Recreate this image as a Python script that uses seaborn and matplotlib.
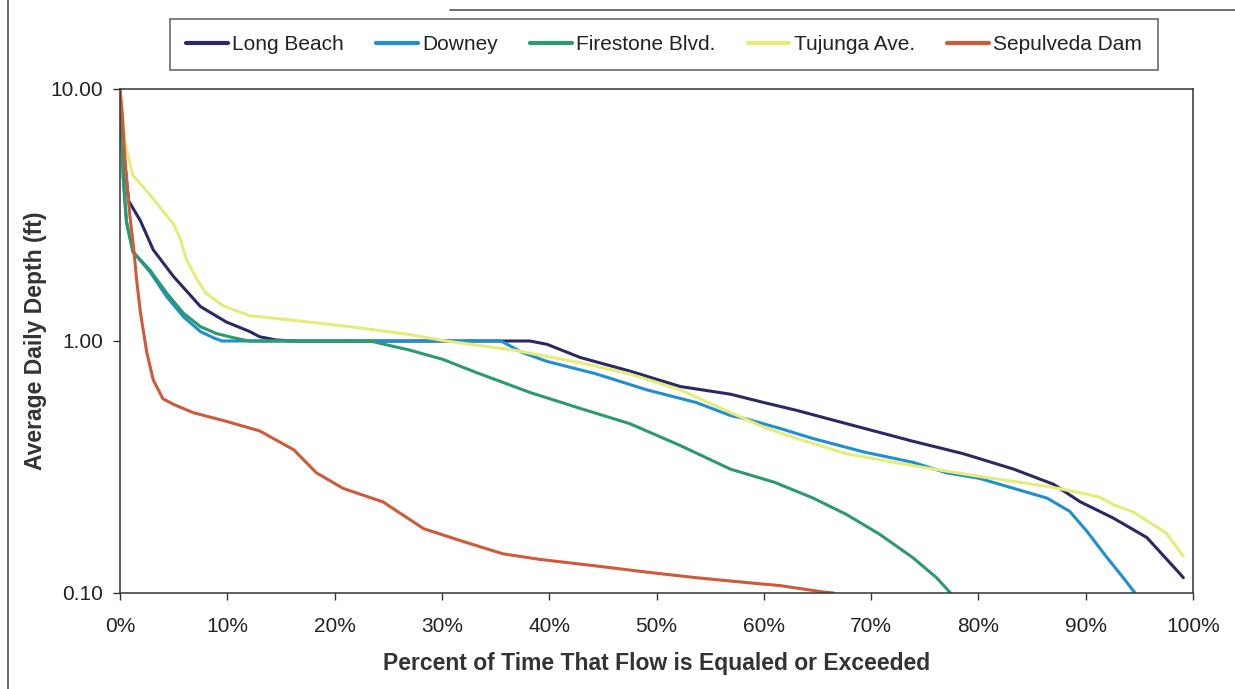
import numpy as np
import pandas as pd
import seaborn as sns
import matplotlib.pyplot as plt
from matplotlib.lines import Line2D
from matplotlib.ticker import FixedLocator, NullLocator

# courbes des durees
lb_pct = [0, 0.3, 0.8, 1.9, 3.1, 5.0, 7.5, 9.9, 12.1, 13.0, 14.5, 16.0, 38.2, 39.8, 42.9, 47.5, 52.2,
          56.9, 60.0, 63.1, 67.7, 73.9, 78.6, 83.3, 87.0, 89.5, 92.6, 95.7, 98.8, 99.1]
lb_depth = [10, 5.9, 3.6, 3.0, 2.3, 1.8, 1.37, 1.19, 1.09, 1.04, 1.01, 1.0, 1.0, 0.97, 0.86, 0.76, 0.66,
            0.615, 0.57, 0.53, 0.47, 0.40, 0.357, 0.31, 0.27, 0.23, 0.198, 0.166, 0.119, 0.115]

dw_pct = [0, 0.3, 0.6, 1.2, 2.8, 4.35, 5.9, 7.5, 8.7, 9.5, 35.5, 37.5, 39.8, 44.4, 49.1, 53.7,
          56.9, 58.4, 61.5, 64.6, 69.3, 73.9, 77.0, 80.1, 83.3, 86.4, 88.5, 90.1, 92.0, 93.5, 94.6]
dw_depth = [10, 4.45, 2.98, 2.26, 1.88, 1.50, 1.25, 1.09, 1.03, 1.0, 1.0, 0.90, 0.83, 0.74, 0.64, 0.57,
            0.506, 0.49, 0.45, 0.41, 0.363, 0.33, 0.30, 0.285, 0.26, 0.238, 0.211, 0.176, 0.138, 0.115, 0.1]

fs_pct = [0, 0.3, 0.6, 1.2, 2.8, 4.35, 5.9, 7.5, 9.0, 10.6, 12.0, 23.3, 24.2, 27.0, 30.1, 33.2,
          36.3, 38.2, 42.9, 47.5, 52.2, 56.9, 61.0, 64.6, 67.7, 70.8, 73.9, 76.1, 77.4]
fs_depth = [10, 4.45, 2.98, 2.26, 1.91, 1.55, 1.29, 1.14, 1.07, 1.03, 1.0, 1.0, 0.98, 0.92, 0.845, 0.75,
            0.67, 0.625, 0.54, 0.47, 0.385, 0.31, 0.275, 0.238, 0.205, 0.171, 0.138, 0.115, 0.1]

tj_pct = [0, 0.5, 1.2, 2.8, 3.7, 5.0, 5.6, 6.2, 7.2, 8.0, 9.6, 12.1, 16.8, 21.4, 24.2, 27.0, 30.4,
          36.7, 42.9, 47.5, 52.2, 56.9, 60.0, 63.1, 67.7, 73.9, 80.1, 86.4, 89.5, 91.3, 92.6, 94.4,
          97.5, 99.1]
tj_depth = [10, 6.0, 4.55, 3.8, 3.4, 2.9, 2.55, 2.1, 1.75, 1.55, 1.38, 1.26, 1.2, 1.14, 1.10, 1.06, 1.0,
            0.92, 0.82, 0.74, 0.64, 0.52, 0.455, 0.41, 0.357, 0.32, 0.29, 0.265, 0.25, 0.24, 0.224, 0.21,
            0.173, 0.14]

sp_pct = [0, 0.2, 0.5, 0.9, 1.24, 1.55, 1.9, 2.5, 3.1, 4.0, 5.0, 6.8, 9.9, 13.0, 16.2, 18.3, 20.8,
          24.5, 28.3, 32.0, 35.7, 39.1, 44.4, 49.1, 53.7, 58.4, 61.5, 65.5, 66.5]
sp_depth = [10, 8, 5.0, 3.2, 2.4, 1.75, 1.3, 0.9, 0.70, 0.59, 0.56, 0.52, 0.48, 0.44, 0.37, 0.30, 0.26,
            0.23, 0.18, 0.16, 0.143, 0.136, 0.128, 0.121, 0.115, 0.110, 0.107, 0.101, 0.1]

stations = ['Long Beach', 'Downey', 'Firestone Blvd.', 'Tujunga Ave.', 'Sepulveda Dam']
couleurs = ['#2a2966', '#1e8fd2', '#2b9a6c', '#e6ec78', '#cf5a3a']
x_ticks = [0, 10, 20, 30, 40, 50, 60, 70, 80, 90, 100]
y_ticks = [0.1, 1.0, 10.0]

series = [(lb_pct, lb_depth), (dw_pct, dw_depth), (fs_pct, fs_depth), (tj_pct, tj_depth), (sp_pct, sp_depth)]
frames = []
for nom, (p, d) in zip(stations, series):
    frames.append(pd.DataFrame({'pct': p, 'depth': d, 'station': nom}))
df = pd.concat(frames, ignore_index=True)

sns.set_theme(style="white")
plt.rcParams['font.family'] = ['Liberation Sans', 'DejaVu Sans']

fig = plt.figure(figsize=(12.35, 6.89), dpi=100)
ax = fig.add_axes([120 / 1235, 1 - 593 / 689, (1193 - 120) / 1235, (593 - 89) / 689])

sns.lineplot(data=df, x='pct', y='depth', hue='station', hue_order=stations,
             palette=couleurs, linewidth=2.2, sort=False, estimator=None, ax=ax, legend=False)

ax.set_yscale('log')
ax.set_xlim(0, 100)
ax.set_ylim(0.1, 10)
ax.xaxis.set_major_locator(FixedLocator(x_ticks))
ax.set_xticklabels([f'{t}%' for t in x_ticks])
ax.yaxis.set_major_locator(FixedLocator(y_ticks))
ax.yaxis.set_minor_locator(NullLocator())
ax.set_yticklabels([f'{t:.2f}' for t in y_ticks])
ax.tick_params(axis='both', direction='out', length=5, width=1, color='#333333',
               labelsize=15, labelcolor='#222222', bottom=True, left=True)
ax.tick_params(axis='x', pad=12)
ax.tick_params(axis='y', pad=7)
for s in ax.spines.values():
    s.set_color('#333333')
    s.set_linewidth(1.1)

ax.set_xlabel('Percent of Time That Flow is Equaled or Exceeded', fontsize=16.5,
              fontweight='bold', color='#333333', labelpad=12)
ax.set_ylabel('Average Daily Depth (ft)', fontsize=16.5, fontweight='bold',
              color='#333333', labelpad=3)

handles = [Line2D([0], [0], color=c, lw=3) for c in couleurs]
leg = fig.legend(handles, stations, loc='center', ncol=5, mode='expand',
                 bbox_to_anchor=(160 / 1235, 1 - 71 / 689, 1008 / 1235, 53 / 689),
                 fontsize=15, frameon=True, fancybox=False, edgecolor='#333333',
                 handlelength=2.0, handletextpad=0.2, borderpad=0.75)
leg.get_frame().set_linewidth(1.1)
for t in leg.get_texts():
    t.set_color('#222222')

# traits du scan autour de la figure
fig.add_artist(Line2D([8 / 1235, 8 / 1235], [0, 1], color='#555555', lw=1.2))
fig.add_artist(Line2D([450 / 1235, 1], [1 - 10 / 689, 1 - 10 / 689], color='#555555', lw=1.2))

fig.savefig('out.png', dpi=100, facecolor='white')
